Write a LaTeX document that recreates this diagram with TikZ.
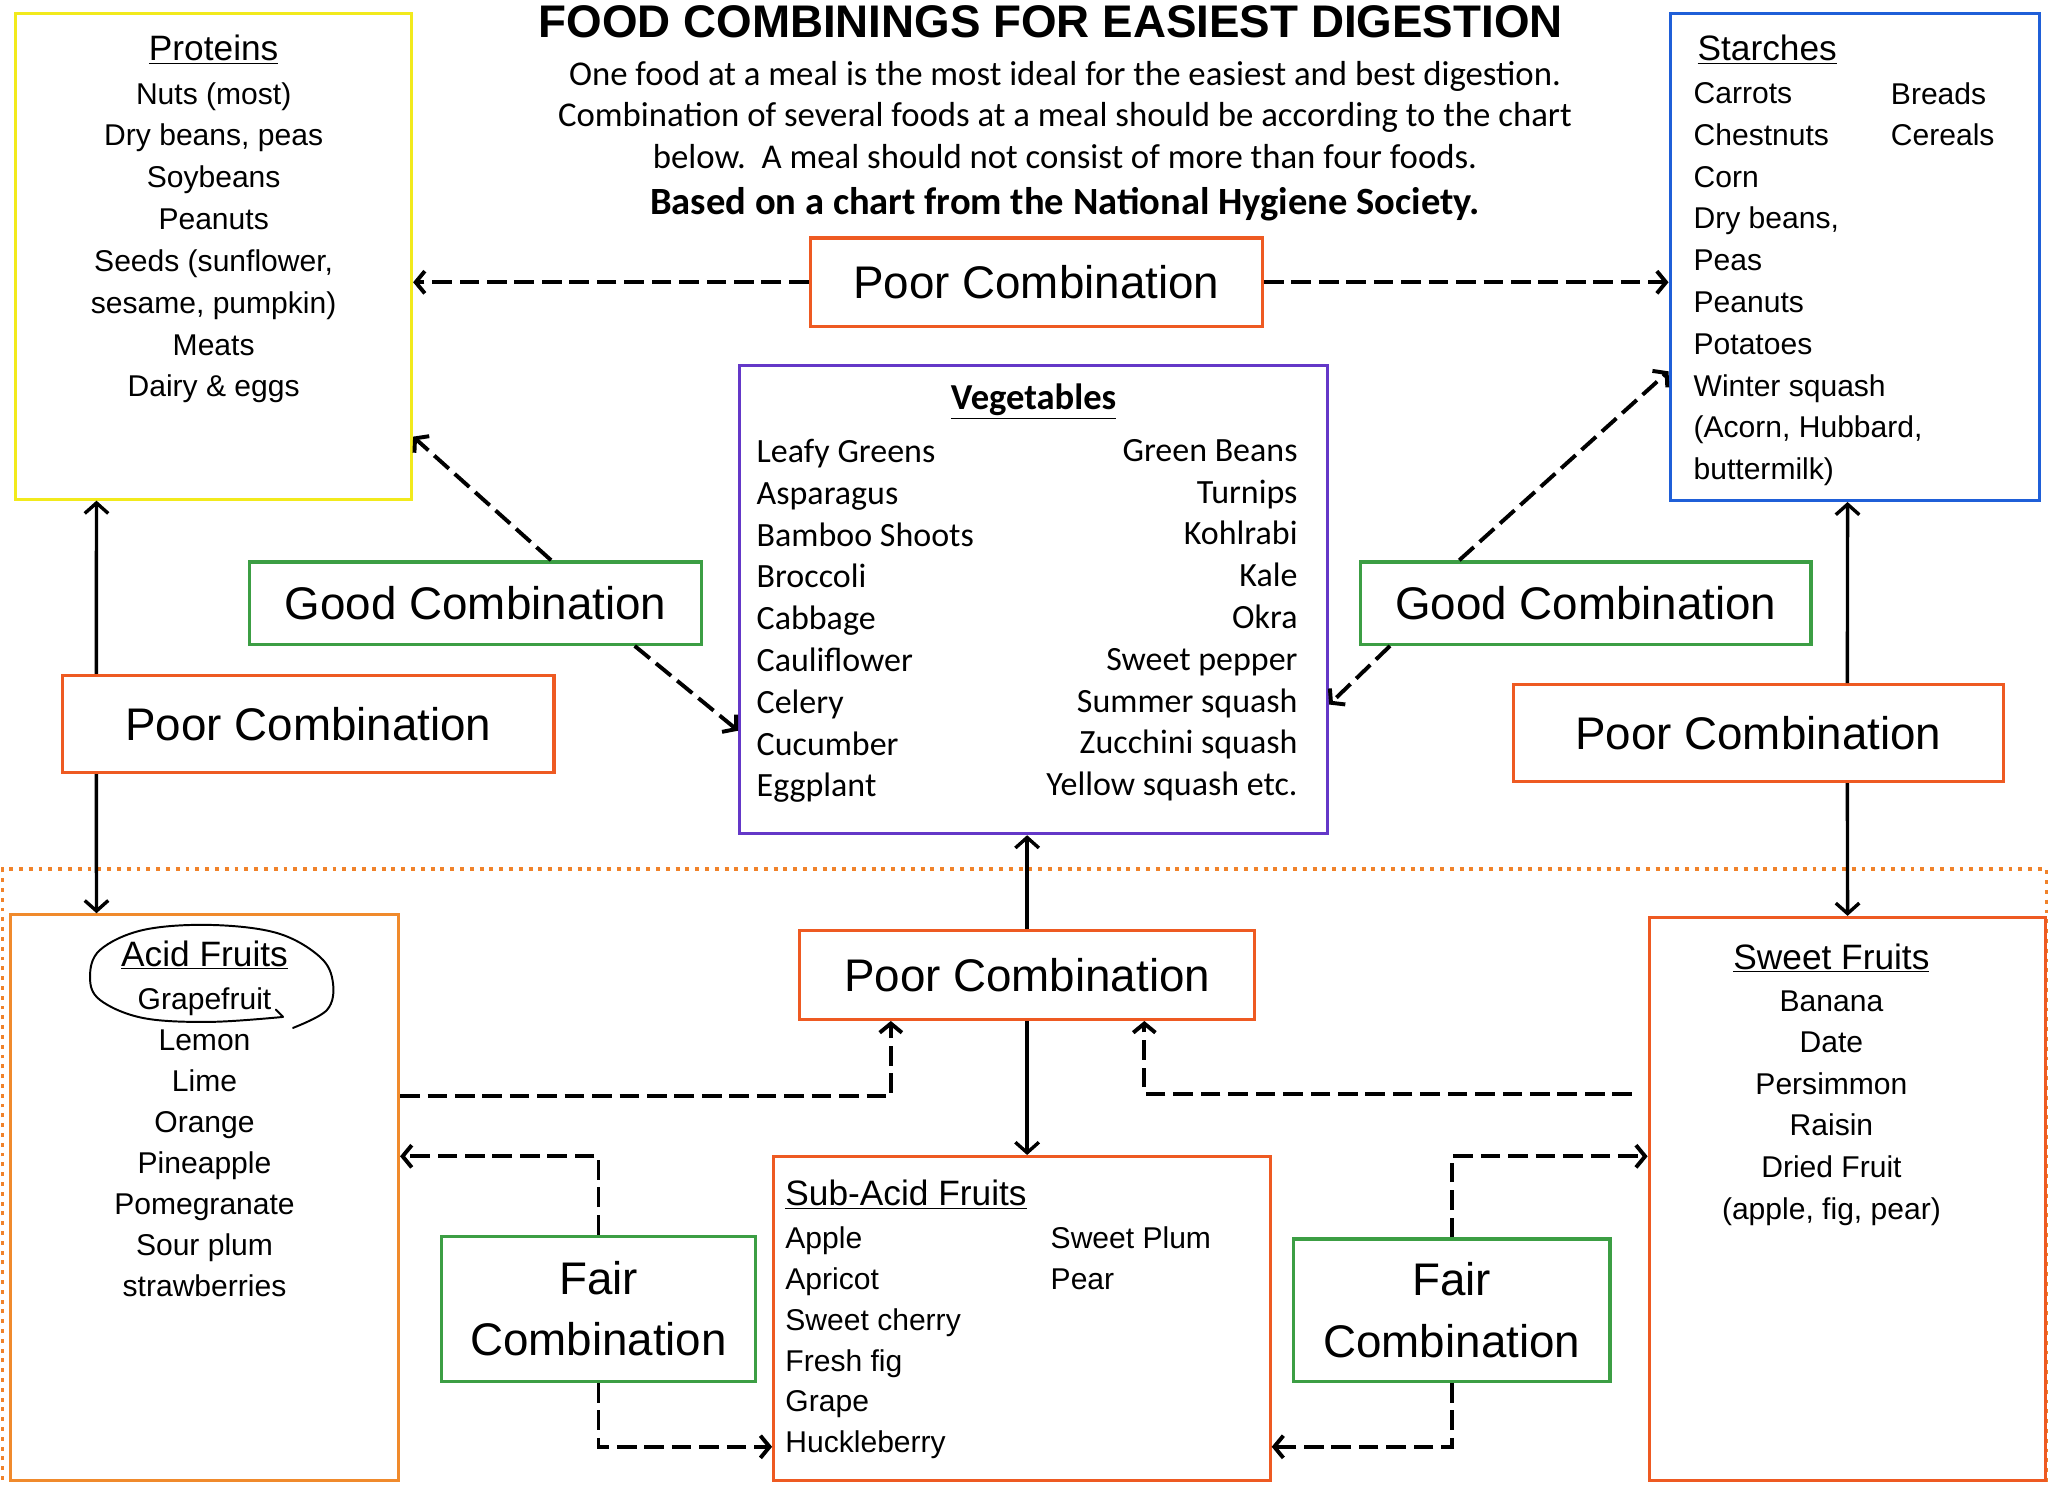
\documentclass[tikz,border=0pt]{standalone}
\usepackage{fontspec}
\setmainfont{Liberation Sans}
\newfontfamily\calibrifont{Carlito}
\usepackage{xcolor}
\usetikzlibrary{arrows.meta,positioning,calc}

\definecolor{protyellow}{HTML}{F2EA1C}
\definecolor{starchblue}{HTML}{1F5FD8}
\definecolor{poorred}{HTML}{EE5A22}
\definecolor{vegpurple}{HTML}{6438C8}
\definecolor{goodgreen}{HTML}{3C9E44}
\definecolor{fruitorange}{HTML}{F08A2C}
\definecolor{dotorange}{HTML}{F0822A}

\begin{document}
\begin{tikzpicture}[
  x=1pt, y=-1pt,
  every node/.style={inner sep=0pt},
  group/.style   ={rectangle, draw, line width=2.3pt},
  combo/.style   ={rectangle, draw=poorred, line width=2.6pt, align=center,
                   font=\fontsize{35}{47}\selectfont},
  goodbox/.style ={combo, draw=goodgreen},
  items/.style   ={font=\fontsize{23}{32}\selectfont},
  head/.style    ={font=\fontsize{27}{32}\selectfont},
  vegtext/.style ={font=\calibrifont\fontsize{26}{32}\selectfont},
  dashlink/.style={line width=3pt, dash pattern=on 15pt off 6pt,
                   -{Straight Barb[length=7pt,width=17pt,line width=3pt]}},
  solidlink/.style={line width=2.6pt,
                   -{Straight Barb[length=8pt,width=18pt,line width=2.6pt]}}
]
\useasboundingbox (0,0) rectangle (1568,1137);

% fruit area
\draw[dotorange, line width=2.4pt, dash pattern=on 3pt off 4.5pt]
  (2,1140) -- (2,665) -- (1566,665) -- (1566,1140);

% heading
\node[font=\bfseries\fontsize{35}{40}\selectfont] (title) at (804,17)
  {FOOD COMBININGS FOR EASIEST DIGESTION};
\node[font=\calibrifont\fontsize{26.6}{31.5}\selectfont, align=center,
      anchor=north] (intro) at (815,47) {
  One food at a meal is the most ideal for the easiest and best digestion.\\
  Combination of several foods at a meal should be according to the chart\\
  below.\ \ A meal should not consist of more than four foods.\\[4pt]
  \bfseries\fontsize{29.5}{31.5}\selectfont Based on a chart from the National Hygiene Society.
};

% food groups
\node[group, draw=protyellow, minimum width=303pt, minimum height=372pt] (prot) at (163.5,196) {};
\node[group, draw=starchblue, minimum width=283pt, minimum height=373pt] (starch) at (1419.5,196.5) {};
\node[group, draw=vegpurple, minimum width=450pt, minimum height=358pt] (veg) at (791,459) {};
\node[group, draw=fruitorange, minimum width=297pt, minimum height=433pt] (acid) at (156.5,916.5) {};
\node[group, draw=poorred, minimum width=380pt, minimum height=248pt] (sub) at (782,1009) {};
\node[group, draw=poorred, minimum width=303pt, minimum height=431pt] (sweet) at (1413.5,917.5) {};

\node[head, below=18pt of prot.north] {\underline{Proteins}};
\node[items, align=center, below=54pt of prot.north] {
  Nuts (most)\\ Dry beans, peas\\ Soybeans\\ Peanuts\\ Seeds (sunflower,\\
  sesame, pumpkin)\\ Meats\\ Dairy \& eggs
};

\node[head, below right=18pt and 22pt of starch.north west] {\underline{Starches}};
\node[items, align=left, below right=54pt and 19pt of starch.north west] {
  Carrots\\ Chestnuts\\ Corn\\ Dry beans,\\ Peas\\ Peanuts\\ Potatoes\\
  Winter squash\\ (Acorn, Hubbard,\\ buttermilk)
};
\node[items, align=left, below right=54pt and 170pt of starch.north west] {
  Breads\\ Cereals
};

\node[vegtext, font=\calibrifont\bfseries\fontsize{28}{32}\selectfont,
      below=15pt of veg.north] {\underline{Vegetables}};
\node[vegtext, align=left, below right=57pt and 14pt of veg.north west] {
  Leafy Greens\\ Asparagus\\ Bamboo Shoots\\ Broccoli\\ Cabbage\\
  Cauliflower\\ Celery\\ Cucumber\\ Eggplant
};
\node[vegtext, align=right, below left=57pt and 24pt of veg.north east] {
  Green Beans\\ Turnips\\ Kohlrabi\\ Kale\\ Okra\\ Sweet pepper\\
  Summer squash\\ Zucchini squash\\ Yellow squash etc.
};

\node[head, below=21pt of acid.north] {\underline{Acid Fruits}};
\node[items, align=center, below=57pt of acid.north,
      font=\fontsize{23}{31.4}\selectfont] {
  Grapefruit\\ Lemon\\ Lime\\ Orange\\ Pineapple\\ Pomegranate\\ Sour plum\\
  strawberries
};

\node[head, below right=19pt and 10pt of sub.north west] {\underline{Sub-Acid Fruits}};
\node[items, align=left, below right=55pt and 10pt of sub.north west,
      font=\fontsize{23}{31.2}\selectfont] {
  Apple\\ Apricot\\ Sweet cherry\\ Fresh fig\\ Grape\\ Huckleberry
};
\node[items, align=left, below right=55pt and 213pt of sub.north west,
      font=\fontsize{23}{31.2}\selectfont] {
  Sweet Plum\\ Pear
};

\node[head, below=21pt of sweet.north, xshift=-12pt] {\underline{Sweet Fruits}};
\node[items, align=center, below=57pt of sweet.north, xshift=-12pt,
      font=\fontsize{23}{31.8}\selectfont] {
  Banana\\ Date\\ Persimmon\\ Raisin\\ Dried Fruit\\ (apple, fig, pear)
};

% hand-drawn ring
\draw[line width=1.5pt, line cap=round] plot[smooth, tension=0.6] coordinates {
  (216.6,778.2) (160.7,782) (109.4,779) (76.5,765.2) (68.9,747.6) (76.5,727)
  (109.4,711.7) (160.7,707.8) (212,714) (244.9,732.3) (254.8,752.2)
  (250.2,772.9) (224.2,786.6)};
\draw[line width=1.5pt, line cap=round] (216.6,778.2) -- (211,772.5);

% combinations
\node[combo, minimum width=346pt, minimum height=68pt] (poorT) at (793,216) {Poor Combination};
\node[goodbox, minimum width=346pt, minimum height=63pt] (goodL) at (364,461.5) {Good Combination};
\node[goodbox, minimum width=345pt, minimum height=63pt] (goodR) at (1213.5,461.5) {Good Combination};
\node[combo, minimum width=376pt, minimum height=74pt] (poorL) at (236,554) {Poor Combination};
\node[combo, minimum width=375pt, minimum height=74pt] (poorR) at (1345.5,561) {Poor Combination};
\node[combo, minimum width=348pt, minimum height=68pt] (poorB) at (786,746) {Poor Combination};
\node[goodbox, minimum width=240pt, minimum height=111pt] (fairL) at (458,1001.5) {Fair\\ Combination};
\node[goodbox, minimum width=242pt, minimum height=109pt] (fairR) at (1111,1002.5) {Fair\\ Combination};

% links
\draw[dashlink] (poorT.west) -- (poorT.west -| prot.east);
\draw[dashlink] (poorT.east) -- (poorT.east -| starch.west);
\draw[dashlink] ($(goodL.north west)+(232,0)$) -- ($(prot.south east)+(0,-49)$);
\draw[dashlink] ($(goodL.south west)+(296,0)$) -- ($(veg.south west)+(0,-80)$);
\draw[dashlink] ($(goodR.north west)+(77,0)$) -- ($(starch.south west)+(0,-100)$);
\draw[dashlink] ($(goodR.south west)+(24,0)$) -- ($(veg.south east)+(0,-100)$);
\draw[solidlink] ($(poorL.north west)+(27,0)$) -- ($(prot.south west)+(63,0)$);
\draw[solidlink] ($(poorL.south west)+(27,0)$) -- ($(acid.north west)+(67,0)$);
\draw[solidlink] ($(poorR.north west)+(257,0)$) -- ($(starch.south west)+(137,0)$);
\draw[solidlink] ($(poorR.south west)+(257,0)$) -- ($(sweet.north west)+(153,0)$);
\draw[solidlink] (poorB.north) -- (poorB.north |- veg.south);
\draw[solidlink] (poorB.south) -- (poorB.south |- sub.north);
\draw[dashlink] ($(acid.north east)+(0,140)$) -| ($(poorB.south west)+(71,0)$);
\draw[dashlink] ($(sweet.north west)+(-12,136)$) -| ($(poorB.south west)+(265,0)$);
\draw[dashlink] (fairL.north) |- ($(acid.north east)+(0,186)$);
\draw[dashlink] (fairL.south) |- ($(sub.south west)+(0,-27)$);
\draw[dashlink] (fairR.north) |- ($(sweet.north west)+(0,184)$);
\draw[dashlink] (fairR.south) |- ($(sub.south east)+(0,-27)$);
\end{tikzpicture}
\end{document}
